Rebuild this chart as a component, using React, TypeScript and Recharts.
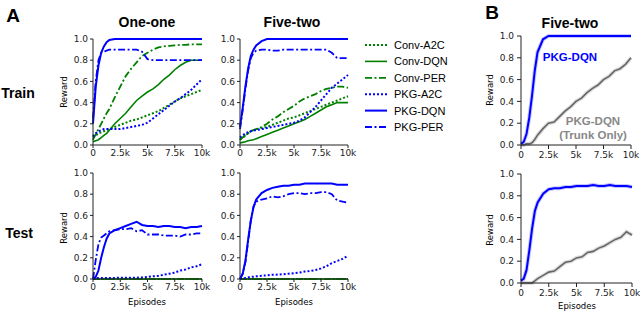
import React from "react";
import { LineChart, Line, XAxis, YAxis } from "recharts";

// shared x samples (episodes)
const episodes = [0, 250, 500, 750, 1000, 1250, 1500, 2000, 2500, 3000, 3500, 4000, 4500, 5000, 5500, 6000, 6500, 7000, 7500, 8000, 8500, 9000, 9500, 10000];
const xTicks = [0, 2500, 5000, 7500, 10000];
const xTickLabels = ["0", "2.5k", "5k", "7.5k", "10k"];
const yTicks = [0, 0.2, 0.4, 0.6, 0.8, 1.0];

// A: One-one, train
const oneOneTrainConvA2C = [0.07, 0.09, 0.11, 0.12, 0.13, 0.14, 0.15, 0.17, 0.19, 0.21, 0.23, 0.24, 0.26, 0.28, 0.3, 0.32, 0.35, 0.38, 0.41, 0.44, 0.46, 0.48, 0.5, 0.52];
const oneOneTrainConvDQN = [0.03, 0.04, 0.05, 0.07, 0.09, 0.11, 0.14, 0.2, 0.25, 0.3, 0.36, 0.42, 0.46, 0.5, 0.53, 0.57, 0.62, 0.66, 0.71, 0.75, 0.78, 0.8, 0.8, 0.8];
const oneOneTrainConvPER = [0.05, 0.1, 0.15, 0.2, 0.25, 0.3, 0.34, 0.45, 0.55, 0.65, 0.72, 0.78, 0.84, 0.87, 0.9, 0.92, 0.93, 0.935, 0.94, 0.945, 0.945, 0.95, 0.95, 0.95];
const oneOneTrainPkgA2C = [0.08, 0.11, 0.13, 0.14, 0.15, 0.15, 0.15, 0.15, 0.15, 0.16, 0.17, 0.18, 0.19, 0.21, 0.25, 0.29, 0.33, 0.37, 0.41, 0.44, 0.48, 0.52, 0.57, 0.62];
const oneOneTrainPkgDQN = [0.2, 0.55, 0.75, 0.87, 0.93, 0.97, 0.99, 1, 1, 1, 1, 1, 1, 1, 1, 1, 1, 1, 1, 1, 1, 1, 1, 1];
const oneOneTrainPkgPER = [0.25, 0.6, 0.8, 0.87, 0.88, 0.89, 0.9, 0.9, 0.9, 0.9, 0.9, 0.9, 0.88, 0.81, 0.8, 0.8, 0.8, 0.8, 0.8, 0.8, 0.8, 0.8, 0.8, 0.8];

// A: Five-two, train
const fiveTwoTrainConvA2C = [0.05, 0.07, 0.09, 0.11, 0.13, 0.14, 0.15, 0.16, 0.17, 0.19, 0.21, 0.23, 0.25, 0.26, 0.28, 0.3, 0.32, 0.34, 0.36, 0.38, 0.4, 0.42, 0.44, 0.46];
const fiveTwoTrainConvDQN = [0.02, 0.025, 0.03, 0.04, 0.045, 0.05, 0.06, 0.08, 0.1, 0.12, 0.14, 0.16, 0.18, 0.2, 0.22, 0.24, 0.27, 0.3, 0.33, 0.36, 0.38, 0.4, 0.4, 0.4];
const fiveTwoTrainConvPER = [0.05, 0.07, 0.09, 0.11, 0.13, 0.14, 0.15, 0.17, 0.2, 0.24, 0.27, 0.31, 0.34, 0.37, 0.41, 0.44, 0.46, 0.48, 0.51, 0.53, 0.54, 0.55, 0.55, 0.54];
const fiveTwoTrainPkgA2C = [0.07, 0.09, 0.11, 0.12, 0.13, 0.14, 0.14, 0.15, 0.16, 0.17, 0.18, 0.19, 0.2, 0.21, 0.23, 0.26, 0.31, 0.36, 0.42, 0.48, 0.54, 0.58, 0.62, 0.66];
const fiveTwoTrainPkgDQN = [0.17, 0.35, 0.55, 0.72, 0.84, 0.9, 0.94, 0.98, 1, 1, 1, 1, 1, 1, 1, 1, 1, 1, 1, 1, 1, 1, 1, 1];
const fiveTwoTrainPkgPER = [0.15, 0.33, 0.53, 0.7, 0.82, 0.87, 0.89, 0.9, 0.9, 0.89, 0.89, 0.9, 0.9, 0.9, 0.9, 0.9, 0.9, 0.9, 0.9, 0.9, 0.87, 0.82, 0.82, 0.82];

// A: One-one, test
const oneOneTestConv = [0, 0, 0, 0, 0, 0, 0, 0, 0, 0, 0, 0, 0, 0, 0, 0, 0, 0, 0, 0, 0, 0, 0, 0];
const oneOneTestPkgA2C = [0, 0.005, 0.01, 0.01, 0.01, 0.01, 0.01, 0.01, 0.012, 0.012, 0.012, 0.012, 0.015, 0.02, 0.025, 0.03, 0.04, 0.05, 0.06, 0.08, 0.09, 0.11, 0.12, 0.14];
const oneOneTestPkgDQN = [0, 0.02, 0.08, 0.2, 0.3, 0.38, 0.43, 0.46, 0.48, 0.5, 0.52, 0.54, 0.51, 0.5, 0.5, 0.49, 0.5, 0.5, 0.49, 0.49, 0.48, 0.49, 0.49, 0.5];
const oneOneTestPkgPER = [0, 0.18, 0.33, 0.39, 0.41, 0.43, 0.45, 0.46, 0.47, 0.47, 0.48, 0.45, 0.46, 0.42, 0.42, 0.42, 0.41, 0.41, 0.41, 0.4, 0.42, 0.42, 0.43, 0.43];

// A: Five-two, test
const fiveTwoTestConv = [0, 0, 0, 0, 0, 0, 0, 0, 0, 0, 0, 0, 0, 0, 0, 0, 0, 0, 0, 0, 0, 0, 0, 0];
const fiveTwoTestPkgA2C = [0, 0.005, 0.01, 0.015, 0.02, 0.022, 0.025, 0.03, 0.035, 0.04, 0.042, 0.045, 0.05, 0.055, 0.06, 0.07, 0.075, 0.085, 0.1, 0.12, 0.15, 0.17, 0.19, 0.22];
const fiveTwoTestPkgDQN = [0, 0.05, 0.17, 0.37, 0.55, 0.68, 0.75, 0.81, 0.84, 0.86, 0.87, 0.88, 0.88, 0.89, 0.89, 0.9, 0.9, 0.9, 0.9, 0.9, 0.9, 0.89, 0.89, 0.89];
const fiveTwoTestPkgPER = [0, 0.05, 0.16, 0.35, 0.55, 0.68, 0.73, 0.75, 0.76, 0.78, 0.77, 0.78, 0.8, 0.81, 0.81, 0.8, 0.81, 0.81, 0.82, 0.82, 0.8, 0.74, 0.73, 0.72];

// B: Five-two, PKG-DQN vs trunk only
const bTrainPkgDQN = [0.01, 0.03, 0.1, 0.25, 0.45, 0.68, 0.85, 0.97, 1, 1, 1, 1, 1, 1, 1, 1, 1, 1, 1, 1, 1, 1, 1, 1];
const bTrainTrunk = [0, 0, 0.01, 0.01, 0.02, 0.05, 0.09, 0.15, 0.2, 0.21, 0.26, 0.31, 0.35, 0.4, 0.43, 0.48, 0.52, 0.55, 0.6, 0.63, 0.68, 0.7, 0.74, 0.8];
const bTestPkgDQN = [0.02, 0.04, 0.12, 0.3, 0.5, 0.66, 0.74, 0.82, 0.86, 0.87, 0.87, 0.88, 0.88, 0.89, 0.89, 0.89, 0.9, 0.89, 0.89, 0.9, 0.89, 0.89, 0.89, 0.88];
const bTestTrunk = [0, 0, 0, 0, 0, 0.02, 0.04, 0.07, 0.1, 0.11, 0.15, 0.19, 0.2, 0.23, 0.24, 0.28, 0.29, 0.32, 0.34, 0.37, 0.4, 0.42, 0.47, 0.44];

const methods = ["Conv-A2C", "Conv-DQN", "Conv-PER", "PKG-A2C", "PKG-DQN", "PKG-PER"];

const GREEN = "#008000";
const BLUE = "#0000ff";
const INK = "#222";

const lineStyle: Record<string, { stroke: string; dash?: string; width: number }> = {
  "Conv-A2C": { stroke: GREEN, dash: "2 2", width: 2 },
  "Conv-DQN": { stroke: GREEN, width: 1.6 },
  "Conv-PER": { stroke: GREEN, dash: "7 2.5 2 2.5", width: 1.8 },
  "PKG-A2C": { stroke: BLUE, dash: "2 2", width: 2 },
  "PKG-DQN": { stroke: BLUE, width: 2 },
  "PKG-PER": { stroke: BLUE, dash: "7 2.5 2 2.5", width: 1.8 },
  Trunk: { stroke: "#666", width: 1.6 },
};

function rowsOf(series: Record<string, number[]>) {
  return episodes.map((ep, i) => {
    const row: Record<string, number> = { ep };
    for (const k of Object.keys(series)) row[k] = series[k][i];
    return row;
  });
}

const oneOneTrain = rowsOf({
  "Conv-A2C": oneOneTrainConvA2C, "Conv-DQN": oneOneTrainConvDQN, "Conv-PER": oneOneTrainConvPER,
  "PKG-A2C": oneOneTrainPkgA2C, "PKG-DQN": oneOneTrainPkgDQN, "PKG-PER": oneOneTrainPkgPER,
});
const fiveTwoTrain = rowsOf({
  "Conv-A2C": fiveTwoTrainConvA2C, "Conv-DQN": fiveTwoTrainConvDQN, "Conv-PER": fiveTwoTrainConvPER,
  "PKG-A2C": fiveTwoTrainPkgA2C, "PKG-DQN": fiveTwoTrainPkgDQN, "PKG-PER": fiveTwoTrainPkgPER,
});
const oneOneTest = rowsOf({
  "Conv-A2C": oneOneTestConv, "Conv-DQN": oneOneTestConv, "Conv-PER": oneOneTestConv,
  "PKG-A2C": oneOneTestPkgA2C, "PKG-DQN": oneOneTestPkgDQN, "PKG-PER": oneOneTestPkgPER,
});
const fiveTwoTest = rowsOf({
  "Conv-A2C": fiveTwoTestConv, "Conv-DQN": fiveTwoTestConv, "Conv-PER": fiveTwoTestConv,
  "PKG-A2C": fiveTwoTestPkgA2C, "PKG-DQN": fiveTwoTestPkgDQN, "PKG-PER": fiveTwoTestPkgPER,
});
const bTrain = rowsOf({ "PKG-DQN": bTrainPkgDQN, Trunk: bTrainTrunk });
const bTest = rowsOf({ "PKG-DQN": bTestPkgDQN, Trunk: bTestTrunk });

const YW = 34;
const MT = 6;
const MR = 14;

type PanelProps = {
  left: number; top: number; right: number; bottom: number;
  data: Record<string, number>[];
  keys: string[];
  band?: boolean;
  tickSize?: number;
  tickGap?: number;
};

function Panel({ left, top, right, bottom, data, keys, band, tickSize = 3, tickGap = 2 }: PanelProps) {
  const w = right - left;
  const h = bottom - top;
  const tick = { fill: INK, fontSize: 9, fontFamily: "DejaVu Sans" };
  return (
    <div style={{ position: "absolute", left: left - YW, top: top - MT }}>
      <LineChart width={w + YW + MR} height={h + MT + 22} data={data} margin={{ top: MT, right: MR, bottom: 0, left: 0 }}>
        <XAxis
          dataKey="ep"
          type="number"
          domain={[0, 10000]}
          ticks={xTicks}
          interval={0}
          tickFormatter={(v) => xTickLabels[xTicks.indexOf(v)]}
          tickSize={tickSize}
          tickMargin={tickGap}
          height={22}
          stroke={INK}
          tick={tick}
        />
        <XAxis xAxisId="top" orientation="top" dataKey="ep" type="number" domain={[0, 10000]} tick={false} tickLine={false} height={0} stroke={INK} />
        <YAxis
          type="number"
          domain={[0, 1]}
          ticks={yTicks}
          interval={0}
          tickFormatter={(v) => v.toFixed(1)}
          tickSize={tickSize}
          tickMargin={tickGap}
          width={YW}
          stroke={INK}
          tick={tick}
        />
        <YAxis yAxisId="r" orientation="right" type="number" domain={[0, 1]} tick={false} tickLine={false} width={0} stroke={INK} />
        {band &&
          keys.map((k) => (
            <Line key={"band-" + k} dataKey={k} stroke={lineStyle[k].stroke} strokeOpacity={0.22} strokeWidth={4} dot={false} isAnimationActive={false} />
          ))}
        {keys.map((k) => (
          <Line
            key={k}
            dataKey={k}
            stroke={lineStyle[k].stroke}
            strokeWidth={lineStyle[k].width}
            strokeDasharray={lineStyle[k].dash}
            dot={false}
            isAnimationActive={false}
          />
        ))}
      </LineChart>
    </div>
  );
}

function Txt({ x, y, size, bold, color = "#000", rotate, family = "Liberation Sans", children }: {
  x: number; y: number; size: number; bold?: boolean; color?: string; rotate?: boolean; family?: string; children: React.ReactNode;
}) {
  return (
    <div
      style={{
        position: "absolute", left: x, top: y, whiteSpace: "nowrap", lineHeight: 1,
        transform: `translate(-50%, -50%)${rotate ? " rotate(-90deg)" : ""}`,
        fontSize: size, fontWeight: bold ? 700 : 400, color, fontFamily: family,
      }}
    >
      {children}
    </div>
  );
}

function Legend() {
  return (
    <svg width={110} height={104} style={{ position: "absolute", left: 360, top: 33 }}>
      {methods.map((m, i) => {
        const y = 12 + i * 16.4;
        const s = lineStyle[m];
        return (
          <g key={m}>
            <line x1={5} x2={27} y1={y} y2={y} stroke={s.stroke} strokeWidth={s.width} strokeDasharray={s.dash} />
            <text x={34} y={y + 4} fontSize={11} fontFamily="Liberation Sans" fill="#000">{m}</text>
          </g>
        );
      })}
    </svg>
  );
}

export default function App() {
  return (
    <div style={{ position: "absolute", left: 0, top: 0, width: 640, height: 312, background: "#fff", overflow: "hidden" }}>
      <Txt x={13} y={15} size={19} bold>A</Txt>
      <Txt x={492} y={12} size={19} bold>B</Txt>
      <Txt x={147} y={22} size={14} bold>One-one</Txt>
      <Txt x={292} y={22} size={14} bold>Five-two</Txt>
      <Txt x={570} y={23} size={14} bold>Five-two</Txt>
      <Txt x={18} y={93} size={14} bold>Train</Txt>
      <Txt x={19} y={233} size={14} bold>Test</Txt>

      <Panel left={93} top={39} right={202} bottom={145} data={oneOneTrain} keys={methods} />
      <Panel left={240} top={39} right={348} bottom={145} data={fiveTwoTrain} keys={methods} />
      <Panel left={93} top={173} right={202} bottom={279} data={oneOneTest} keys={methods} />
      <Panel left={240} top={173} right={348} bottom={279} data={fiveTwoTest} keys={methods} />
      <Panel left={521} top={36} right={631} bottom={145} data={bTrain} keys={["Trunk", "PKG-DQN"]} band tickSize={4} tickGap={3} />
      <Panel left={521} top={174} right={632} bottom={283} data={bTest} keys={["Trunk", "PKG-DQN"]} band tickSize={4} tickGap={3} />

      <Txt x={64} y={92} size={8.5} rotate family="DejaVu Sans">Reward</Txt>
      <Txt x={64} y={228} size={8.5} rotate family="DejaVu Sans">Reward</Txt>
      <Txt x={490} y={90} size={8.5} rotate family="DejaVu Sans">Reward</Txt>
      <Txt x={490} y={230} size={8.5} rotate family="DejaVu Sans">Reward</Txt>
      <Txt x={147} y={302} size={8.5} family="DejaVu Sans">Episodes</Txt>
      <Txt x={294} y={302} size={8.5} family="DejaVu Sans">Episodes</Txt>
      <Txt x={577} y={306} size={8.5} family="DejaVu Sans">Episodes</Txt>

      <Txt x={570} y={58} size={11.5} bold color={BLUE}>PKG-DQN</Txt>
      <Txt x={593} y={122} size={11.5} bold color="#888">PKG-DQN</Txt>
      <Txt x={593} y={136} size={11.5} bold color="#888">(Trunk Only)</Txt>

      <Legend />
    </div>
  );
}
